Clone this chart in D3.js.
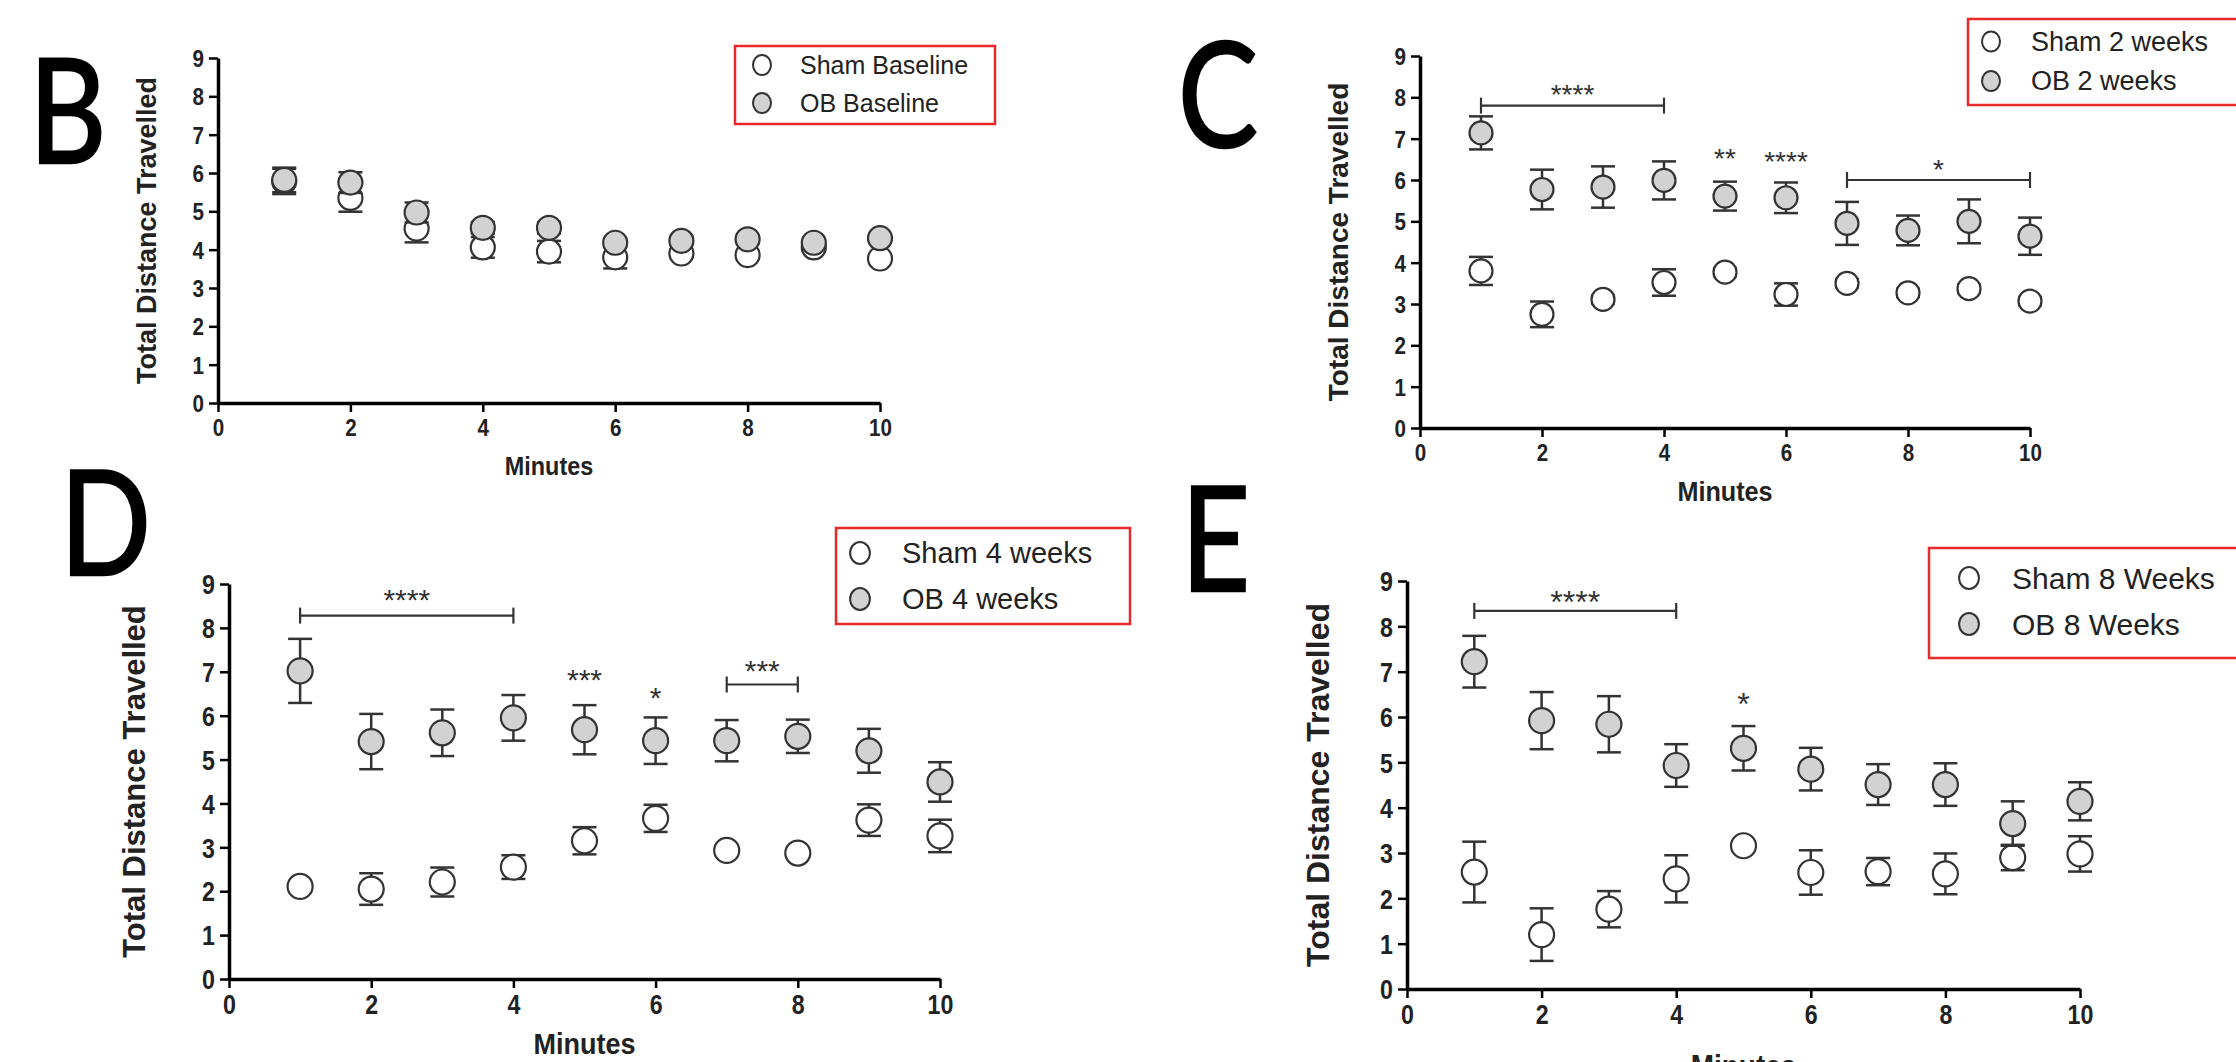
<!DOCTYPE html>
<html><head><meta charset="utf-8">
<script src="https://cdn.jsdelivr.net/npm/d3@7"></script>
<style>body{margin:0;background:#fff}svg{display:block}</style>
</head><body>
<svg id="c" width="2236" height="1062"></svg>
<script>
// ---------- data ----------
const minutes = [1, 2, 3, 4, 5, 6, 7, 8, 9, 10];
const xTickValues = [0, 2, 4, 6, 8, 10];
const yTickValues = [0, 1, 2, 3, 4, 5, 6, 7, 8, 9];
const xTitle = "Minutes";
const yTitle = "Total Distance Travelled";

// B: baseline
const shamBaseline    = [5.78, 5.35, 4.55, 4.06, 3.95, 3.80, 3.90, 3.86, 4.06, 3.77];
const shamBaselineErr = [0.33, 0.36, 0.36, 0.27, 0.28, 0.29, 0.10, 0.10, 0.10, 0.10];
const obBaseline      = [5.82, 5.75, 4.97, 4.57, 4.57, 4.18, 4.23, 4.27, 4.18, 4.30];
const obBaselineErr   = [0.32, 0.27, 0.26, 0.15, 0.15, 0.12, 0.10, 0.10, 0.10, 0.10];
const legendB = ["Sham Baseline", "OB Baseline"];

// C: 2 weeks
const sham2w    = [3.80, 2.75, 3.11, 3.52, 3.77, 3.23, 3.50, 3.27, 3.37, 3.07];
const sham2wErr = [0.34, 0.31, 0.10, 0.32, 0.10, 0.27, 0.10, 0.10, 0.10, 0.10];
const ob2w      = [7.14, 5.77, 5.83, 5.99, 5.61, 5.57, 4.95, 4.78, 5.00, 4.64];
const ob2wErr   = [0.40, 0.48, 0.50, 0.46, 0.35, 0.37, 0.52, 0.36, 0.53, 0.45];
const legendC = ["Sham 2 weeks", "OB 2 weeks"];
const bracketsC = [
  { from: 1, to: 4, level: 7.80, label: "****", labelLevel: 8.22 },
  { from: 7, to: 10, level: 6.00, label: "*", labelLevel: 6.41 }
];
const marksC = [
  { at: 5, labelLevel: 6.69, label: "**" },
  { at: 6, labelLevel: 6.61, label: "****" }
];

// D: 4 weeks
const sham4w    = [2.11, 2.05, 2.21, 2.55, 3.15, 3.66, 2.93, 2.87, 3.62, 3.26];
const sham4wErr = [0.10, 0.36, 0.33, 0.27, 0.31, 0.31, 0.10, 0.10, 0.36, 0.37];
const ob4w      = [7.02, 5.41, 5.61, 5.95, 5.68, 5.43, 5.43, 5.53, 5.20, 4.49];
const ob4wErr   = [0.73, 0.63, 0.53, 0.52, 0.56, 0.53, 0.47, 0.38, 0.50, 0.45];
const legendD = ["Sham 4 weeks", "OB 4 weeks"];
const bracketsD = [
  { from: 1, to: 4, level: 8.28, label: "****", labelLevel: 8.81 },
  { from: 7, to: 8, level: 6.71, label: "***", labelLevel: 7.18 }
];
const marksD = [
  { at: 5, labelLevel: 6.97, label: "***" },
  { at: 6, labelLevel: 6.57, label: "*" }
];

// E: 8 weeks
const sham8w    = [2.58, 1.20, 1.76, 2.43, 3.16, 2.57, 2.59, 2.54, 2.90, 2.98];
const sham8wErr = [0.67, 0.58, 0.40, 0.52, 0.10, 0.49, 0.30, 0.45, 0.28, 0.39];
const ob8w      = [7.22, 5.92, 5.84, 4.93, 5.31, 4.85, 4.51, 4.51, 3.65, 4.14];
const ob8wErr   = [0.57, 0.63, 0.62, 0.47, 0.49, 0.47, 0.45, 0.47, 0.49, 0.42];
const legendE = ["Sham 8 Weeks", "OB 8 Weeks"];
const bracketsE = [
  { from: 1, to: 4, level: 8.34, label: "****", labelLevel: 8.70 }
];
const marksE = [
  { at: 5, labelLevel: 6.45, label: "*" }
];

// ---------- layout ----------
const panels = [
  { letter: "B", lx: 29, ly: 163,
    x0: 218, x10: 880, y0: 403, y9: 58, r: 12, tickFont: 24, titleFont: 27, xTitleFont: 26,
    yTitleX: 147, xTitleY: 466, starFont: 28,
    sham: shamBaseline, shamErr: shamBaselineErr, ob: obBaseline, obErr: obBaselineErr,
    legend: legendB, box: [735, 46, 260, 78], symX: 762, rows: [65, 103], textX: 800, legFont: 25, symR: 10,
    brackets: [], marks: [] },
  { letter: "C", lx: 1178, ly: 147,
    x0: 1420, x10: 2030, y0: 428, y9: 56, r: 11.5, tickFont: 24, titleFont: 28, xTitleFont: 28,
    yTitleX: 1338, xTitleY: 492, starFont: 28,
    sham: sham2w, shamErr: sham2wErr, ob: ob2w, obErr: ob2wErr,
    legend: legendC, box: [1968, 19, 280, 86], symX: 1991, rows: [41.5, 81], textX: 2031, legFont: 27, symR: 10,
    brackets: bracketsC, marks: marksC },
  { letter: "D", lx: 60, ly: 575,
    x0: 229, x10: 940, y0: 979, y9: 584, r: 12.5, tickFont: 27, titleFont: 31, xTitleFont: 30,
    yTitleX: 134, xTitleY: 1043, starFont: 30,
    sham: sham4w, shamErr: sham4wErr, ob: ob4w, obErr: ob4wErr,
    legend: legendD, box: [836, 528, 294, 96], symX: 860, rows: [553, 599], textX: 902, legFont: 29, symR: 11,
    brackets: bracketsD, marks: marksD },
  { letter: "E", lx: 1181, ly: 591,
    x0: 1407, x10: 2080, y0: 989, y9: 581, r: 12.5, tickFont: 27, titleFont: 32, xTitleFont: 31,
    yTitleX: 1318, xTitleY: 1066, starFont: 32,
    sham: sham8w, shamErr: sham8wErr, ob: ob8w, obErr: ob8wErr,
    legend: legendE, box: [1929, 548, 320, 110], symX: 1969, rows: [578, 624], textX: 2012, legFont: 30, symR: 11,
    brackets: bracketsE, marks: marksE }
];

const svg = d3.select("#c");
const SANS = "'Liberation Sans', Arial, Helvetica, sans-serif";
const INK = "#333";
const OBFILL = "#d2d2d2";
const SQUEEZE = 0.86;   // glyphs in the reference are horizontally condensed

function drawPanel(p) {
  const g = svg.append("g");
  const x = d3.scaleLinear().domain([0, 10]).range([p.x0, p.x10]);
  const y = d3.scaleLinear().domain([0, 9]).range([p.y0, p.y9]);

  // panel letter (condensed and heavy like the original)
  g.append("text").attr("transform", `translate(${p.lx},${p.ly}) scale(0.82,1)`)
    .style("font-family", "Lato, 'Open Sans', sans-serif").style("font-size", "146px")
    .attr("fill", "#000").attr("stroke", "#000").attr("stroke-width", 2.5).text(p.letter);

  // axes
  const ax = g.append("g").attr("transform", `translate(0,${p.y0})`)
    .call(d3.axisBottom(x).tickValues(xTickValues).tickSize(9).tickSizeOuter(0)
      .tickPadding(7).tickFormat(d3.format("d")));
  const ay = g.append("g").attr("transform", `translate(${p.x0},0)`)
    .call(d3.axisLeft(y).tickValues(yTickValues).tickSize(9).tickSizeOuter(0)
      .tickPadding(5).tickFormat(d3.format("d")));
  [ax, ay].forEach(a => {
    a.select(".domain").attr("stroke", "#000").attr("stroke-width", 3.5);
    a.selectAll(".tick line").attr("stroke", "#000").attr("stroke-width", 2.5);
    a.selectAll(".tick text").attr("fill", "#222")
      .style("font-family", SANS).style("font-weight", "bold").style("font-size", p.tickFont + "px");
  });
  ax.selectAll(".tick text").attr("transform", `scale(${SQUEEZE},1)`);
  ay.selectAll(".tick text").attr("dy", "0.36em")
    .attr("x", -(9 + 5) / SQUEEZE).attr("transform", `scale(${SQUEEZE},1)`);

  // titles
  g.append("text").attr("transform", `translate(${p.yTitleX},${(p.y0 + p.y9) / 2}) rotate(-90)`)
    .attr("text-anchor", "middle").attr("dominant-baseline", "central")
    .style("font-family", SANS).style("font-weight", "bold").style("font-size", p.titleFont + "px")
    .attr("fill", "#222").text(yTitle);
  g.append("text").attr("transform", `translate(${(p.x0 + p.x10) / 2},${p.xTitleY}) scale(0.9,1)`)
    .attr("text-anchor", "middle").attr("dominant-baseline", "central")
    .style("font-family", SANS).style("font-weight", "bold").style("font-size", p.xTitleFont + "px")
    .attr("fill", "#222").text(xTitle);

  // series
  const capW = 12;
  function drawSeries(vals, errs, fill, cls) {
    const eg = g.append("g").attr("stroke", INK).attr("stroke-width", 2.5);
    eg.selectAll("line.v").data(minutes).join("line").attr("class", "v")
      .attr("x1", d => x(d)).attr("x2", d => x(d))
      .attr("y1", (d, i) => y(vals[i] + errs[i])).attr("y2", (d, i) => y(vals[i] - errs[i]));
    eg.selectAll("line.t").data(minutes).join("line").attr("class", "t")
      .attr("x1", d => x(d) - capW).attr("x2", d => x(d) + capW)
      .attr("y1", (d, i) => y(vals[i] + errs[i])).attr("y2", (d, i) => y(vals[i] + errs[i]));
    eg.selectAll("line.b").data(minutes).join("line").attr("class", "b")
      .attr("x1", d => x(d) - capW).attr("x2", d => x(d) + capW)
      .attr("y1", (d, i) => y(vals[i] - errs[i])).attr("y2", (d, i) => y(vals[i] - errs[i]));
    g.append("g").selectAll("circle").data(minutes).join("circle")
      .attr("class", cls)
      .attr("cx", d => x(d)).attr("cy", (d, i) => y(vals[i])).attr("r", p.r)
      .attr("fill", fill).attr("stroke", INK).attr("stroke-width", 2.2);
  }
  drawSeries(p.sham, p.shamErr, "#fff", "sham");
  drawSeries(p.ob, p.obErr, OBFILL, "ob");

  // significance annotations
  const starBase = lvl => y(lvl) + 0.58 * p.starFont;
  p.brackets.forEach(b => {
    const bg = g.append("g").attr("stroke", INK).attr("stroke-width", 2.2);
    bg.append("line").attr("x1", x(b.from)).attr("x2", x(b.to)).attr("y1", y(b.level)).attr("y2", y(b.level));
    [b.from, b.to].forEach(e => bg.append("line").attr("x1", x(e)).attr("x2", x(e))
      .attr("y1", y(b.level) - 8).attr("y2", y(b.level) + 8));
    g.append("text").attr("x", x((b.from + b.to) / 2)).attr("y", starBase(b.labelLevel))
      .attr("text-anchor", "middle").style("font-family", SANS).style("font-size", p.starFont + "px")
      .attr("fill", INK).text(b.label);
  });
  p.marks.forEach(m => {
    g.append("text").attr("x", x(m.at)).attr("y", starBase(m.labelLevel))
      .attr("text-anchor", "middle").style("font-family", SANS).style("font-size", p.starFont + "px")
      .attr("fill", INK).text(m.label);
  });

  // legend
  const lg = g.append("g");
  lg.append("rect").attr("x", p.box[0]).attr("y", p.box[1]).attr("width", p.box[2]).attr("height", p.box[3])
    .attr("fill", "#fff").attr("stroke", "#e8282a").attr("stroke-width", 2.5);
  const fills = ["#fff", OBFILL];
  p.legend.forEach((lab, i) => {
    lg.append("ellipse").attr("cx", p.symX).attr("cy", p.rows[i]).attr("rx", p.symR * 0.9).attr("ry", p.symR)
      .attr("fill", fills[i]).attr("stroke", INK).attr("stroke-width", 2);
    lg.append("text").attr("x", p.textX).attr("y", p.rows[i]).attr("dominant-baseline", "central")
      .style("font-family", SANS).style("font-size", p.legFont + "px").attr("fill", "#222").text(lab);
  });
}

panels.forEach(drawPanel);
</script>
</body></html>
